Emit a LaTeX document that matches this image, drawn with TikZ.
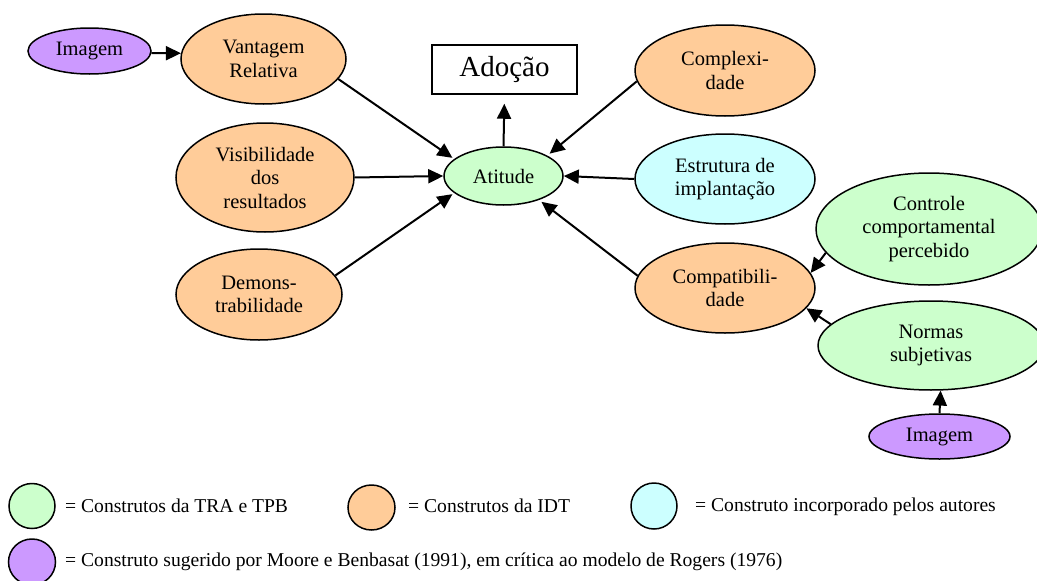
\documentclass[tikz,border=0pt]{standalone}
\usepackage{fontspec}
\setmainfont{Liberation Serif}
\usetikzlibrary{shapes.geometric,arrows.meta}
\definecolor{orangeC}{HTML}{FFCC99}
\definecolor{greenC}{HTML}{CCFFCC}
\definecolor{cyanC}{HTML}{CCFFFF}
\definecolor{purpleC}{HTML}{CC99FF}
\tikzset{
  base/.style={ellipse, draw, line width=1.5pt, inner sep=0pt, align=center,
    font=\fontsize{20.5}{23.5}\selectfont},
  orangeN/.style={base, fill=orangeC},
  greenN/.style={base, fill=greenC},
  cyanN/.style={base, fill=cyanC},
  purpleN/.style={base, fill=purpleC},
  sz/.style 2 args={minimum width=#1pt, minimum height=#2pt},
  arr/.style={line width=2pt, -{Triangle[length=15pt,width=14pt]}},
  legtext/.style={anchor=base west, inner sep=0pt, font=\fontsize{19.6}{23}\selectfont}
}
\begin{document}
\begin{tikzpicture}[x=1pt,y=-1pt]
\useasboundingbox (0,0) rectangle (1037,581);
% main nodes
\node[purpleN, sz={123}{46}] (img1) at (89.5,51) {Imagem};
\node[orangeN, sz={165}{90}] (vant) at (263.5,59) {Vantagem\\Relativa};
\node[orangeN, sz={178}{109}] (vis) at (265,177.5) {Visibilidade\\dos\\resultados};
\node[orangeN, sz={166}{91}] (dem) at (259,294.5) {Demons-\\trabilidade};
\node[draw, line width=1.5pt, minimum width=145pt, minimum height=49pt, inner sep=0pt,
      font=\fontsize{29}{32}\selectfont] (adoc) at (504.5,69.5) {Adoção};
\node[greenN, sz={119}{58}] (atit) at (503.5,176) {Atitude};
\node[orangeN, sz={180}{91}] (comp) at (725,70.5) {Complexi-\\dade};
\node[cyanN, sz={180}{90}] (estr) at (725,179) {Estrutura de\\implantação};
\node[orangeN, sz={180}{90}] (compat) at (725,288) {Compatibili-\\dade};
\node[greenN, sz={226}{112}] (ctrl) at (929,229) {Controle\\comportamental\\percebido};
\node[greenN, sz={226}{89}] (norm) at (931,345.5) {Normas\\subjetivas};
\node[purpleN, sz={141}{45}] (img2) at (939.5,436.5) {Imagem};
% connectors
\draw[arr] (img1.-2) -- (vant.176);
\draw[arr, shorten >=2pt] (vant.-15) -- (atit.161);
\draw[arr] (vis.east) -- (atit.west);
\draw[arr, shorten >=2pt] (dem.14) -- (atit.199);
\draw[arr, shorten >=9pt] (atit.north) -- (adoc.south);
\draw[arr, shorten >=3pt] (comp.187) -- (atit.25);
\draw[arr] (estr.west) -- (atit.east);
\draw[arr, shorten >=3pt] (compat.172) -- (atit.-34);
\draw[arr] (ctrl.193) -- (compat.10);
\draw[arr] (norm.168.5) -- (compat.-14);
\draw[arr] (img2.north) -- (norm.-78.5);
% legend
\node[greenN, sz={46}{45}] (lg1) at (32,506) {};
\node[legtext] (lt1) at (65,512) {= Construtos da TRA e TPB};
\node[orangeN, sz={47}{45}] (lg2) at (371.5,507.5) {};
\node[legtext] (lt2) at (408,512) {= Construtos da IDT};
\node[cyanN, sz={46}{46}] (lg3) at (654,506) {};
\node[legtext] (lt3) at (695,511) {= Construto incorporado pelos autores};
\node[purpleN, sz={47}{46}] (lg4) at (32,562) {};
\node[legtext] (lt4) at (65,566) {= Construto sugerido por Moore e Benbasat (1991), em crítica ao modelo de Rogers (1976)};
\end{tikzpicture}
\end{document}
